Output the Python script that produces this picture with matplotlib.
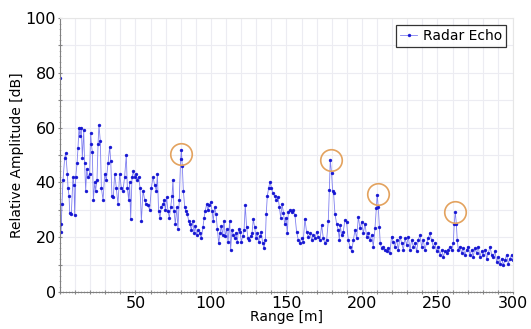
import numpy as np
import matplotlib
matplotlib.use("Agg")
import matplotlib.pyplot as plt
from matplotlib.ticker import MultipleLocator, FuncFormatter

# ============================================================
# Data
# ============================================================

range_m = [
    0.0, 0.5, 0.9, 1.3, 2.0, 3.1, 3.8, 4.9, 5.3, 6.0, 6.4, 7.5, 8.6, 9.3, 9.7,
    10.4, 11.3, 11.9, 12.6, 13.2, 14.1, 14.8, 15.7, 16.3, 17.0, 17.7, 18.5, 19.6,
    20.3, 20.8, 21.4, 22.1, 23.0, 23.6, 24.5, 25.2, 25.8, 26.7, 27.4, 28.5, 29.6,
    30.7, 31.8, 32.9, 33.6, 34.4, 35.3, 36.2, 37.3, 38.4, 39.5, 40.6, 41.7, 42.8,
    43.9, 44.6, 45.5, 46.1, 46.8, 47.7, 48.6, 49.4, 50.3, 51.2, 52.1, 53.0, 53.9,
    55.0, 56.1, 57.2, 58.3, 59.4, 60.5, 61.6, 62.7, 63.8, 64.5, 65.3, 66.2, 67.1,
    68.2, 68.9, 69.8, 70.6, 71.5, 72.4, 73.3, 74.2, 74.8, 75.5, 76.4, 77.3, 78.1,
    79.0, 79.9, 80.4, 81.0, 81.7, 82.6, 83.4, 84.3, 85.2, 86.1, 87.0, 87.9, 88.7,
    89.6, 90.5, 91.4, 92.5, 93.6, 94.7, 95.4, 96.2, 97.1, 98.0, 98.9, 99.8, 100.7,
    101.5, 102.4, 103.3, 104.2, 105.1, 106.0, 106.8, 107.7, 108.6, 109.5, 110.4,
    111.3, 112.4, 113.0, 113.9, 114.8, 115.7, 116.6, 117.4, 118.3, 119.2, 120.1,
    121.0, 121.9, 122.7, 123.6, 124.5, 125.4, 126.3, 127.2, 128.0, 128.9, 129.8,
    130.7, 131.6, 132.5, 133.3, 134.2, 135.1, 136.0, 136.6, 137.3, 138.2, 139.1,
    140.0, 141.1, 142.2, 143.3, 144.4, 145.3, 146.2, 147.1, 148.0, 148.8, 149.7,
    150.6, 151.2, 152.3, 153.4, 154.5, 155.6, 156.7, 157.8, 158.9, 160.0, 161.1,
    162.2, 163.3, 164.5, 165.6, 166.7, 167.8, 168.9, 170.0, 171.1, 172.2, 173.3,
    174.4, 175.5, 176.6, 177.7, 178.4, 179.0, 179.9, 180.6, 181.2, 182.1, 183.2,
    184.3, 185.0, 185.6, 186.5, 187.6, 188.7, 189.8, 190.9, 192.0, 193.2, 194.3,
    195.4, 196.5, 197.6, 198.7, 199.8, 200.9, 202.0, 203.1, 204.2, 205.3, 206.4,
    207.5, 208.6, 209.5, 210.1, 210.8, 211.5, 212.1, 213.0, 214.1, 215.2, 216.3,
    217.4, 218.5, 219.6, 220.7, 221.8, 223.0, 224.1, 225.2, 226.3, 227.4, 228.5,
    229.6, 230.7, 231.8, 232.9, 234.0, 235.1, 236.2, 237.3, 238.4, 239.5, 240.6,
    241.7, 242.8, 243.9, 245.0, 246.1, 247.2, 248.3, 249.4, 250.5, 251.6, 252.8,
    253.9, 255.0, 256.1, 257.2, 258.3, 259.4, 260.5, 261.1, 261.8, 262.5, 263.1,
    263.8, 264.9, 266.0, 267.1, 268.2, 269.3, 270.4, 271.5, 272.6, 273.7, 274.8,
    275.9, 277.0, 278.1, 279.2, 280.3, 281.5, 282.6, 283.7, 284.8, 285.9, 287.0,
    288.1, 289.2, 290.3, 291.4, 292.5, 293.6, 294.7, 295.8, 296.9, 298.0, 299.1,
    299.8,
]

amplitude_db = [
    78, 22, 25, 32, 41, 49, 50.6, 43, 38, 35, 29, 28.6, 42, 39, 28,
    42, 47, 52.5, 60, 57, 60, 49, 59, 47, 37, 45, 42, 43,
    58, 54, 51, 33.6, 40, 37, 41, 54, 61, 55, 38, 33.6, 43,
    41, 47, 53, 48, 35, 34.6, 43, 38, 32, 43, 38, 37, 42,
    50, 38, 33.6, 40, 26.6, 42, 44, 42, 43, 41, 42, 38, 26,
    37, 33.6, 32, 31.6, 30, 38, 42, 39, 37, 43, 29.6, 27, 31,
    32, 33.6, 30, 34.6, 29.6, 27, 31, 35, 41, 29.6, 24.8, 31, 23,
    33.6, 48.5, 51.8, 46, 37, 31, 29.6, 28.6, 26, 24.8, 22.6, 26, 21.5,
    24, 20.9, 22.6, 21.5, 19.7, 23.7, 27, 29.6, 32, 30, 31.6, 32.8, 29.6,
    26, 31, 28.6, 23, 17.8, 21.5, 24, 20.9, 26, 20.3, 23,
    18.4, 26, 15.3, 22.6, 20.9, 19.7, 21.5, 18.4, 23, 22, 18.4,
    20.3, 22.6, 31.6, 23.7, 19.7, 19, 20.3, 21.5, 26.6, 23.7, 19.7,
    21.5, 18.4, 20.3, 22, 17.8, 16, 19, 28.6, 35, 38, 40.3,
    38, 36, 35, 33.6, 34.6, 31, 27, 32, 29, 24.8, 27,
    21.5, 29.2, 29.8, 29.2, 29.8, 28, 22, 19, 17.8, 19.6, 18.4,
    26.8, 22, 20.2, 21.4, 19, 20.8, 19.6, 22, 20.2, 19, 24.4,
    19.6, 17.8, 19, 26, 37.3, 48.2, 43.3, 36.7, 36, 28.6, 25,
    22.6, 19, 24.4, 20.8, 22, 26.2, 25.6, 19, 16.6, 14.8, 19,
    22.6, 19.6, 27.5, 23.2, 25.6, 21.4, 25, 20.2, 21.4, 19, 20.8,
    16.6, 23.2, 30.6, 35.5, 31.1, 23.8, 17.8, 16, 16.6, 15.4, 14.8,
    16, 14.2, 20.2, 18.4, 16.6, 19, 15.4, 20.2, 17.8, 15.4, 19.6,
    17.2, 20.2, 15.4, 19, 16.6, 17.8, 14.8, 19, 20.8, 16.6, 19,
    15.4, 17.8, 19.6, 21.4, 19, 16.6, 17.8, 14.8, 16.6, 13.6, 15.4,
    12.9, 14.8, 14.2, 15.4, 16.6, 15.4, 17.8, 25, 29.2, 25, 19,
    15.4, 16.6, 14.2, 16, 13.6, 15.4, 16.6, 13.6, 15.4, 12.9, 16,
    14.2, 16.6, 12.9, 14.8, 13.6, 15.4, 12.2, 14.2, 16.6, 13.6, 12.9,
    14.8, 11, 12.9, 10.4, 12.2, 9.8, 11.6, 13.6, 10.4, 12.2, 13.6,
    11.6,
]

# detected targets (orange rings)
target_range = [80.1, 179.5, 210.6, 261.6]
target_amp = [50.4, 48.2, 35.8, 29.2]

# ============================================================
# Figure
# ============================================================

fig = plt.figure(figsize=(5.31, 3.29), dpi=100)
ax = fig.add_axes([0.113, 0.1125, 0.853, 0.8325])

ax.plot(range_m, amplitude_db, color="#8080f0", linewidth=0.6,
        marker="o", markersize=2.1, markerfacecolor="#1414d2",
        markeredgecolor="#1414d2", markeredgewidth=0.3, label="Radar Echo")

ax.plot(target_range, target_amp, linestyle="none", marker="o",
        markersize=15.5, markerfacecolor="none", markeredgecolor="#e3a25e",
        markeredgewidth=1.2)

ax.set_xlim(0, 300)
ax.set_ylim(0, 100)

ax.xaxis.set_major_locator(MultipleLocator(10))
ax.xaxis.set_minor_locator(MultipleLocator(2))
ax.yaxis.set_major_locator(MultipleLocator(10))
ax.yaxis.set_minor_locator(MultipleLocator(2))
ax.xaxis.set_major_formatter(FuncFormatter(
    lambda v, p: f"{int(v)}" if v % 50 == 0 and v > 0 else ""))
ax.yaxis.set_major_formatter(FuncFormatter(
    lambda v, p: f"{int(v)}" if v % 20 == 0 else ""))

ax.grid(True, which="major", color="#ececf2", linewidth=0.8)
ax.set_axisbelow(True)

ax.tick_params(which="major", direction="inout", length=3, color="#888888",
               labelsize=11.5, pad=1.5)
ax.tick_params(which="minor", direction="inout", length=2, color="#aaaaaa",
               width=0.5)

for side in ["left", "bottom"]:
    ax.spines[side].set_color("#808080")
for side in ["top", "right"]:
    ax.spines[side].set_color("#e6e6e6")

ax.set_xlabel("Range [m]", fontsize=10, labelpad=-1)
ax.set_ylabel("Relative Amplitude [dB]", fontsize=10, labelpad=1)

leg = ax.legend(loc="upper right", fontsize=10, frameon=True, fancybox=False,
                handlelength=1.2, handletextpad=0.4, borderpad=0.3,
                borderaxespad=0.5)
leg.get_frame().set_edgecolor("black")
leg.get_frame().set_linewidth(0.9)

fig.savefig("out.png", dpi=100)
